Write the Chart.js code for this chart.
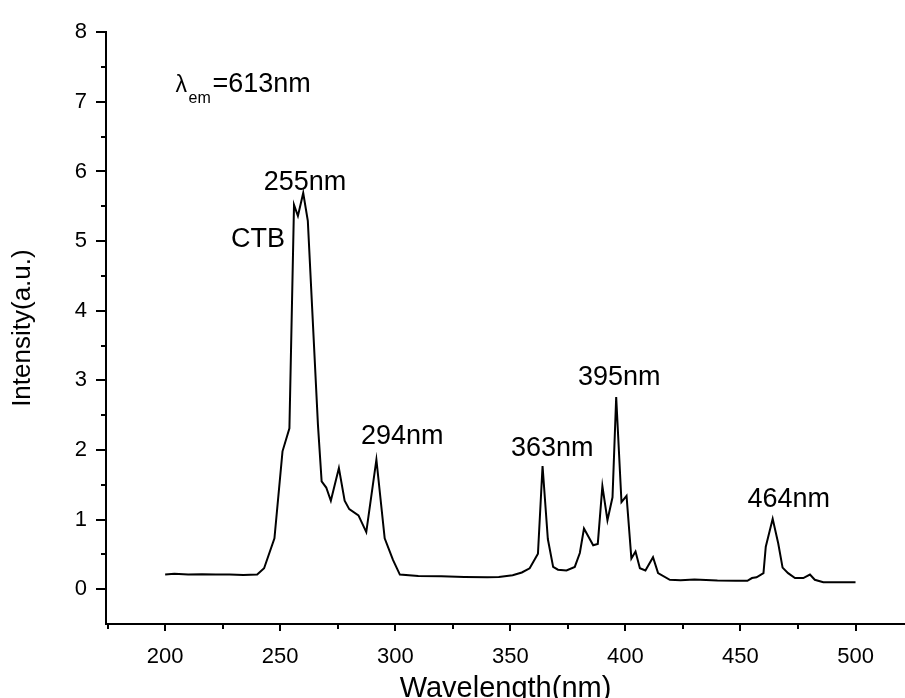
<!DOCTYPE html>
<html>
<head>
<meta charset="utf-8">
<script src="https://cdn.jsdelivr.net/npm/chart.js@4.4.1/dist/chart.umd.min.js"></script>
<style>
  html, body { margin: 0; padding: 0; background: #fff; overflow: hidden; }
  #wrap { width: 905px; height: 710px; }
</style>
</head>
<body>
<div id="wrap"><canvas id="grafico"></canvas></div>
<script>
// excitation spectrum
const wavelength = [200, 204, 210, 216, 222, 228, 234, 240, 243, 247.5, 251, 254, 256, 257.7, 260, 262,
  266.4, 268, 270, 272, 275.5, 278, 280, 284, 287.4, 291.8, 295.4, 299, 302, 310, 320, 330, 340, 345,
  351, 355, 358.4, 362, 364, 366.3, 368.6, 370.7, 374.4, 378, 380.2, 382, 386, 388, 390, 392.2, 394.4,
  396, 398.3, 400.5, 402.6, 404.4, 406.3, 408.7, 412, 414.2, 419.3, 424, 430, 440, 448, 453, 455, 457,
  460, 461, 464, 466.4, 468.3, 470.7, 473.7, 477.3, 480.2, 482.3, 486, 492, 500];
const intensity = [0.21, 0.22, 0.21, 0.215, 0.21, 0.21, 0.205, 0.21, 0.30, 0.73, 1.98, 2.31, 5.52, 5.36, 5.69, 5.29,
  2.36, 1.55, 1.46, 1.27, 1.74, 1.27, 1.15, 1.06, 0.82, 1.86, 0.73, 0.42, 0.21, 0.19, 0.185, 0.175, 0.17, 0.175,
  0.20, 0.24, 0.30, 0.51, 1.77, 0.72, 0.32, 0.28, 0.27, 0.32, 0.52, 0.87, 0.63, 0.65, 1.48, 0.99, 1.32,
  2.76, 1.25, 1.34, 0.44, 0.54, 0.30, 0.27, 0.46, 0.23, 0.135, 0.13, 0.14, 0.125, 0.12, 0.12, 0.16, 0.17,
  0.23, 0.61, 1.01, 0.66, 0.31, 0.23, 0.16, 0.16, 0.21, 0.135, 0.10, 0.10, 0.10];

const xTicks = [175, 200, 225, 250, 275, 300, 325, 350, 375, 400, 425, 450, 475, 500];
const yTicks = [0, 0.5, 1, 1.5, 2, 2.5, 3, 3.5, 4, 4.5, 5, 5.5, 6, 6.5, 7, 7.5, 8];

const peakLabels = ['255nm', 'CTB', '294nm', '363nm', '395nm', '464nm'];
const peakLabelX = [260.8, 240.4, 303, 368.2, 397.3, 471];
const peakLabelY = [5.74, 4.91, 2.08, 1.92, 2.93, 1.18];

const fonte = '"Liberation Sans", Arial, sans-serif';

const marcas = {
  id: 'marcas',
  afterDraw(chart) {
    const { ctx, chartArea } = chart;
    const x = chart.scales.x, y = chart.scales.y;
    ctx.save();
    ctx.strokeStyle = '#000';
    ctx.lineWidth = 2;
    ctx.beginPath();
    x.ticks.forEach(t => {
      const px = Math.round(x.getPixelForValue(t.value));
      const len = t.value % 50 === 0 ? 7 : 5;
      ctx.moveTo(px, chartArea.bottom);
      ctx.lineTo(px, chartArea.bottom + len);
    });
    y.ticks.forEach(t => {
      const py = Math.round(y.getPixelForValue(t.value));
      const len = Number.isInteger(t.value) ? 10 : 5;
      ctx.moveTo(chartArea.left, py);
      ctx.lineTo(chartArea.left - len, py);
    });
    ctx.stroke();

    ctx.fillStyle = '#000';
    ctx.textBaseline = 'alphabetic';
    ctx.textAlign = 'center';
    ctx.font = '27px ' + fonte;
    peakLabels.forEach((txt, i) => {
      ctx.fillText(txt, x.getPixelForValue(peakLabelX[i]), y.getPixelForValue(peakLabelY[i]));
    });

    // lambda_em = 613nm
    const lx = x.getPixelForValue(204.5), ly = y.getPixelForValue(7.14);
    ctx.textAlign = 'left';
    ctx.font = '23px ' + fonte;
    ctx.fillText('λ', lx, ly);
    ctx.font = '16px ' + fonte;
    ctx.fillText('em', lx + 13, ly + 11);
    ctx.font = '27px ' + fonte;
    ctx.fillText('=613nm', lx + 37, ly);
    ctx.restore();
  }
};

new Chart(document.getElementById('grafico').getContext('2d'), {
  type: 'line',
  data: {
    datasets: [{
      data: wavelength.map((w, i) => ({ x: w, y: intensity[i] })),
      borderColor: '#000',
      borderWidth: 2,
      pointRadius: 0,
      tension: 0,
      fill: false
    }]
  },
  options: {
    responsive: true,
    maintainAspectRatio: false,
    animation: false,
    devicePixelRatio: 1,
    layout: { padding: { top: 25, left: 0, right: 0, bottom: 0 } },
    plugins: { legend: { display: false }, tooltip: { enabled: false } },
    scales: {
      x: {
        type: 'linear',
        min: 174.3,
        max: 521.5,
        afterBuildTicks: s => { s.ticks = xTicks.map(v => ({ value: v })); },
        afterFit: s => { s.height = 86; },
        ticks: {
          callback: v => (v % 50 === 0 ? v : ''),
          color: '#000',
          font: { family: fonte, size: 22 },
          padding: 20,
          maxRotation: 0,
          autoSkip: false
        },
        grid: { display: false, drawTicks: false },
        border: { display: true, color: '#000', width: 2 },
        title: {
          display: true,
          text: 'Wavelength(nm)',
          color: '#000',
          font: { family: fonte, size: 29 },
          padding: { top: 0, bottom: 4 }
        }
      },
      y: {
        min: -0.5,
        max: 8,
        afterBuildTicks: s => { s.ticks = yTicks.map(v => ({ value: v })); },
        afterFit: s => { s.width = 106; },
        ticks: {
          callback: v => (Number.isInteger(v) ? v : ''),
          color: '#000',
          font: { family: fonte, size: 22 },
          padding: 19,
          autoSkip: false
        },
        grid: { display: false, drawTicks: false },
        border: { display: true, color: '#000', width: 2 },
        title: {
          display: true,
          text: 'Intensity(a.u.)',
          color: '#000',
          font: { family: fonte, size: 26 },
          padding: { top: 7, bottom: 0 }
        }
      }
    }
  },
  plugins: [marcas]
});
</script>
</body>
</html>
